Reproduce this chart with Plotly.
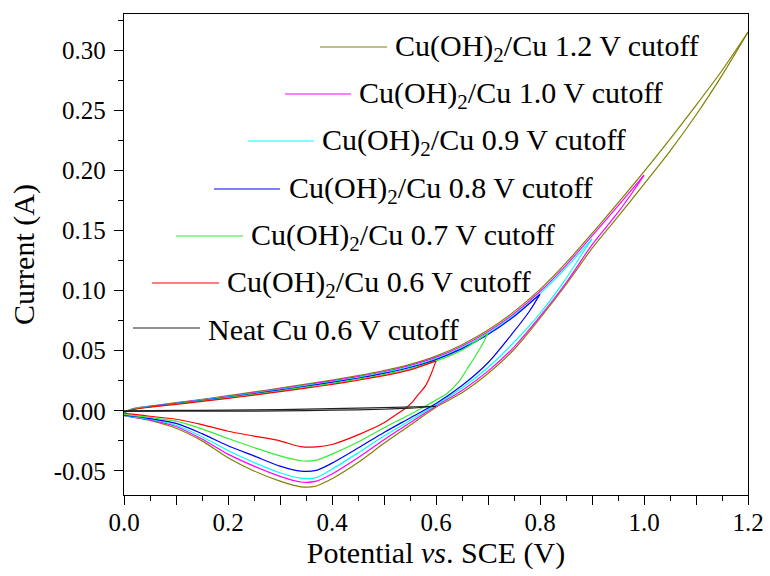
import plotly.graph_objects as go

# ---------------- data ----------------
# forward (upper) branches: potential grid and currents
UP_X = [0.0, 0.02, 0.05, 0.10, 0.15, 0.20, 0.25, 0.30, 0.35, 0.40, 0.45, 0.50, 0.55,
        0.60, 0.65, 0.70, 0.75, 0.80, 0.85, 0.90, 0.95, 1.00, 1.05, 1.10, 1.15, 1.20]

olive_up = [-0.0010, 0.0020, 0.0040, 0.0068, 0.0096, 0.0126, 0.0157, 0.0190, 0.0222, 0.0256,
            0.0292, 0.0334, 0.0386, 0.0455, 0.0550, 0.0672, 0.0825, 0.1010, 0.1230, 0.1475,
            0.1730, 0.1990, 0.2260, 0.2540, 0.2830, 0.3150]
magenta_up = [-0.0010, 0.0018, 0.0038, 0.0065, 0.0092, 0.0121, 0.0151, 0.0183, 0.0215, 0.0249,
              0.0284, 0.0325, 0.0376, 0.0444, 0.0537, 0.0657, 0.0808, 0.0992, 0.1210, 0.1455,
              0.1705, 0.1960]
cyan_up = [-0.0015, 0.0016, 0.0036, 0.0062, 0.0089, 0.0117, 0.0146, 0.0177, 0.0209, 0.0242,
           0.0277, 0.0318, 0.0368, 0.0435, 0.0527, 0.0646, 0.0795, 0.0975, 0.1190, 0.1430]
blue_up = [-0.0015, 0.0015, 0.0034, 0.0060, 0.0086, 0.0113, 0.0142, 0.0172, 0.0203, 0.0236,
           0.0271, 0.0311, 0.0360, 0.0426, 0.0517, 0.0635, 0.0785, 0.0970]
green_up = [-0.0015, 0.0014, 0.0032, 0.0057, 0.0083, 0.0109, 0.0137, 0.0167, 0.0197, 0.0229,
            0.0263, 0.0302, 0.0350, 0.0415, 0.0505, 0.0650]
red_up = [-0.0010, 0.0012, 0.0030, 0.0054, 0.0079, 0.0104, 0.0131, 0.0160, 0.0189, 0.0220,
          0.0254, 0.0292, 0.0340, 0.0415]

# reverse (lower) branches
olive_lo_x = [1.20, 1.15, 1.10, 1.05, 1.00, 0.95, 0.90, 0.85, 0.80, 0.75, 0.70, 0.65, 0.60,
              0.55, 0.50, 0.45, 0.40, 0.37, 0.34, 0.30, 0.25, 0.20, 0.15, 0.10, 0.05, 0.02, 0.0]
olive_lo_y = [0.3150, 0.2790, 0.2460, 0.2160, 0.1885, 0.1615, 0.1350, 0.1050, 0.0770, 0.0510,
              0.0310, 0.0150, 0.0030, -0.0120, -0.0270, -0.0430, -0.0565, -0.0625, -0.0632,
              -0.0585, -0.0500, -0.0390, -0.0250, -0.0145, -0.0080, -0.0055, -0.0040]

magenta_lo_x = [1.00, 0.98, 0.95, 0.90, 0.85, 0.80, 0.75, 0.70, 0.65, 0.60, 0.55, 0.50, 0.45,
                0.40, 0.37, 0.34, 0.30, 0.25, 0.20, 0.15, 0.10, 0.05, 0.02, 0.0]
magenta_lo_y = [0.1960, 0.1830, 0.1650, 0.1380, 0.1065, 0.0785, 0.0530, 0.0330, 0.0170, 0.0040,
                -0.0100, -0.0240, -0.0390, -0.0525, -0.0585, -0.0592, -0.0545, -0.0460,
                -0.0360, -0.0235, -0.0130, -0.0075, -0.0055, -0.0040]

cyan_lo_x = [0.90, 0.88, 0.85, 0.80, 0.75, 0.70, 0.65, 0.60, 0.55, 0.50, 0.45, 0.40, 0.37,
             0.34, 0.30, 0.25, 0.20, 0.15, 0.10, 0.05, 0.02, 0.0]
cyan_lo_y = [0.1430, 0.1300, 0.1100, 0.0810, 0.0570, 0.0360, 0.0190, 0.0050, -0.0080, -0.0210,
             -0.0350, -0.0485, -0.0555, -0.0560, -0.0515, -0.0430, -0.0330, -0.0215, -0.0120,
             -0.0070, -0.0050, -0.0040]

blue_lo_x = [0.80, 0.78, 0.75, 0.70, 0.65, 0.60, 0.55, 0.50, 0.45, 0.40, 0.37, 0.34, 0.30,
             0.25, 0.20, 0.15, 0.10, 0.05, 0.02, 0.0]
blue_lo_y = [0.0970, 0.0830, 0.0660, 0.0400, 0.0210, 0.0060, -0.0060, -0.0180, -0.0310,
             -0.0435, -0.0495, -0.0502, -0.0460, -0.0375, -0.0290, -0.0190, -0.0105, -0.0065,
             -0.0045, -0.0035]

green_lo_x = [0.70, 0.69, 0.675, 0.66, 0.645, 0.62, 0.60, 0.58, 0.55, 0.50, 0.45, 0.40, 0.37,
              0.34, 0.30, 0.25, 0.20, 0.15, 0.10, 0.05, 0.02, 0.0]
green_lo_y = [0.0650, 0.0560, 0.0450, 0.0350, 0.0250, 0.0140, 0.0090, 0.0040, -0.0030,
              -0.0140, -0.0260, -0.0360, -0.0410, -0.0415, -0.0375, -0.0305, -0.0230, -0.0150,
              -0.0085, -0.0055, -0.0040, -0.0030]

red_lo_x = [0.60, 0.59, 0.58, 0.565, 0.555, 0.54, 0.52, 0.50, 0.45, 0.40, 0.37, 0.34, 0.30,
            0.25, 0.20, 0.15, 0.10, 0.05, 0.02, 0.0]
red_lo_y = [0.0415, 0.0300, 0.0210, 0.0130, 0.0075, 0.0017, -0.0040, -0.0100, -0.0200,
            -0.0280, -0.0300, -0.0298, -0.0250, -0.0210, -0.0170, -0.0115, -0.0070, -0.0045,
            -0.0030, -0.0020]

# neat Cu
neat_up_x = [0.0, 0.1, 0.2, 0.3, 0.4, 0.5, 0.6]
neat_up_y = [0.0000, 0.0003, 0.0006, 0.0010, 0.0018, 0.0026, 0.0038]
neat_lo_x = [0.6, 0.55, 0.5, 0.4, 0.3, 0.2, 0.1, 0.0]
neat_lo_y = [0.0038, 0.0022, 0.0013, 0.0005, 0.0000, -0.0003, -0.0003, -0.0005]

SERIES_NAMES = ["Cu(OH)<sub>2</sub>/Cu 1.2 V cutoff", "Cu(OH)<sub>2</sub>/Cu 1.0 V cutoff",
                "Cu(OH)<sub>2</sub>/Cu 0.9 V cutoff", "Cu(OH)<sub>2</sub>/Cu 0.8 V cutoff",
                "Cu(OH)<sub>2</sub>/Cu 0.7 V cutoff", "Cu(OH)<sub>2</sub>/Cu 0.6 V cutoff",
                "Neat Cu 0.6 V cutoff"]

X_TICKS = [0.0, 0.1, 0.2, 0.3, 0.4, 0.5, 0.6, 0.7, 0.8, 0.9, 1.0, 1.1, 1.2]
X_TICK_TEXT = ["0.0", "", "0.2", "", "0.4", "", "0.6", "", "0.8", "", "1.0", "", "1.2"]
Y_TICKS = [-0.05, 0.0, 0.05, 0.10, 0.15, 0.20, 0.25, 0.30]
Y_TICK_TEXT = ["-0.05", "0.00", "0.05", "0.10", "0.15", "0.20", "0.25", "0.30"]

# ---------------- styling ----------------
COLORS = ["#808000", "#ff00ff", "#00ffff", "#0000ff", "#33ee33", "#ff0000", "#222222"]
FONT = "Liberation Serif, Times New Roman, serif"

curves = [
    (UP_X[:len(olive_up)], olive_up, olive_lo_x, olive_lo_y),
    (UP_X[:len(magenta_up)], magenta_up, magenta_lo_x, magenta_lo_y),
    (UP_X[:len(cyan_up)], cyan_up, cyan_lo_x, cyan_lo_y),
    (UP_X[:len(blue_up)], blue_up, blue_lo_x, blue_lo_y),
    (UP_X[:len(green_up)], green_up, green_lo_x, green_lo_y),
    (UP_X[:len(red_up)], red_up, red_lo_x, red_lo_y),
    (neat_up_x, neat_up_y, neat_lo_x, neat_lo_y),
]

fig = go.Figure()
for (ux, uy, lx, ly), col, name in zip(curves, COLORS, SERIES_NAMES):
    for xs, ys in ((ux, uy), (lx, ly)):
        fig.add_trace(go.Scatter(x=xs, y=ys, mode="lines", name=name, showlegend=False,
                                 line=dict(color=col, width=1.2, shape="spline", smoothing=0.8)))

# full-window figure (page body margin removed in post_script)
W, H = 770, 576
ML, MR, MT, MB = 124, 22, 14, 81
PW, PH = W - ML - MR, H - MT - MB

def px2paper(px, py):
    return (px - ML) / PW, (H - MB - py) / PH

# staggered legend (pixel positions: line start, line end, y, text start)
LEGEND_POS = [(320, 387, 47, 393), (285, 351, 94, 357), (248, 314, 141, 320),
              (214, 280, 189, 287), (176, 243, 236, 249), (152, 219, 283, 225),
              (133, 200, 328, 206)]
for (x0, x1, y, tx), col, name in zip(LEGEND_POS, COLORS, SERIES_NAMES):
    a0, b0 = px2paper(x0, y)
    a1, _ = px2paper(x1, y)
    fig.add_shape(type="line", xref="paper", yref="paper", x0=a0, x1=a1, y0=b0, y1=b0,
                  line=dict(color=col, width=1.2))
    ta, tb = px2paper(tx, y + 1)
    fig.add_annotation(xref="paper", yref="paper", x=ta, y=tb, xanchor="left", yanchor="middle",
                       text=name, showarrow=False, font=dict(family=FONT, size=30, color="black"))

axis_common = dict(showline=True, linecolor="black", linewidth=1.4, mirror=True,
                   ticks="outside", ticklen=9, tickwidth=1.2, tickcolor="black",
                   showgrid=False, zeroline=False, automargin=False,
                   ticklabeloverflow="allow",
                   tickfont=dict(family=FONT, size=25, color="black"))

fig.update_xaxes(range=[0, 1.2], tickmode="array", tickvals=X_TICKS, ticktext=X_TICK_TEXT,
                 minor=dict(ticks="outside", ticklen=5, tickwidth=1.2, tickcolor="black",
                            tick0=0, dtick=0.05, showgrid=False),
                 ticklabelstandoff=-4,
                 title=dict(text="Potential <i>vs</i>. SCE (V)", standoff=0,
                            font=dict(family=FONT, size=30, color="black")),
                 **axis_common)
fig.update_yaxes(range=[-0.07, 0.33], tickmode="array", tickvals=Y_TICKS, ticktext=Y_TICK_TEXT,
                 minor=dict(ticks="outside", ticklen=5, tickwidth=1.2, tickcolor="black",
                            tick0=0, dtick=0.025, showgrid=False),
                 ticklabelstandoff=3,
                 title=dict(text="Current (A)", standoff=10,
                            font=dict(family=FONT, size=30, color="black")),
                 **axis_common)

fig.update_layout(width=W, height=H, margin=dict(l=ML, r=MR, t=MT, b=MB),
                  paper_bgcolor="white", plot_bgcolor="white", showlegend=False)

fig.write_html("out.html", config={"displayModeBar": False},
               post_script="document.body.style.margin='0';document.body.style.overflow='hidden';")
